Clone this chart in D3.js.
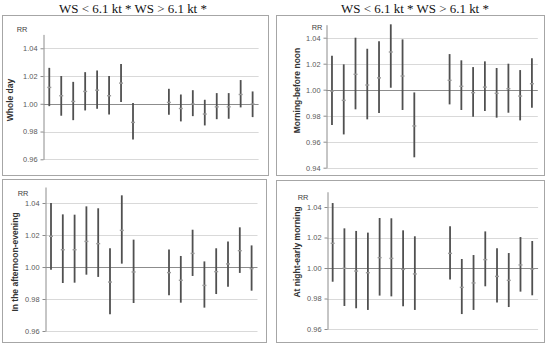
<!DOCTYPE html>
<html>
<head>
<meta charset="utf-8">
<script src="https://cdn.jsdelivr.net/npm/d3@7"></script>
<style>
  html, body { margin: 0; padding: 0; background: #fff; }
  svg { display: block; }
</style>
</head>
<body>
<svg id="chart" width="550" height="345"></svg>
<script>
// ---------------- DATA ----------------
const groupLow = ["L0", "L1", "L2", "L3", "L4", "L5", "L6", "L7"];   // WS < 6.1 kt
const groupHigh = ["H0", "H1", "H2", "H3", "H4", "H5", "H6", "H7"];  // WS > 6.1 kt
const gapSlots = ["gapA", "gapB"];
const categories = [...groupLow, ...groupHigh];

const headerText = "WS < 6.1 kt * WS > 6.1 kt *";
const rrLabel = "RR";

const wholeDayRR   = [1.0118, 1.0058, 1.0017, 1.0089, 1.0098, 1.0058, 1.0149, 0.9866, 1.0010, 0.9966, 0.9998, 0.9926, 0.9978, 0.9978, 1.0067, 0.9998];
const wholeDayLow  = [0.9983, 0.9914, 0.9882, 0.9952, 0.9964, 0.9923, 1.0012, 0.9743, 0.9921, 0.9873, 0.9911, 0.9844, 0.9889, 0.9892, 0.9974, 0.9904];
const wholeDayHigh = [1.0259, 1.0200, 1.0158, 1.0228, 1.0240, 1.0200, 1.0286, 1.0005, 1.0108, 1.0067, 1.0098, 1.0029, 1.0077, 1.0077, 1.0171, 1.0089];

const morningRR   = [0.9990, 0.9918, 1.0118, 1.0036, 1.0091, 1.0290, 1.0105, 0.9721, 1.0072, 1.0026, 0.9977, 1.0020, 0.9972, 1.0008, 0.9951, 1.0046];
const morningLow  = [0.9728, 0.9656, 0.9849, 0.9772, 0.9821, 1.0015, 0.9844, 0.9480, 0.9887, 0.9844, 0.9792, 0.9836, 0.9785, 0.9823, 0.9764, 0.9862];
const morningHigh = [1.0262, 1.0195, 1.0400, 1.0315, 1.0372, 1.0503, 1.0387, 0.9979, 1.0274, 1.0226, 1.0174, 1.0218, 1.0167, 1.0200, 1.0151, 1.0241];

const afternoonRR   = [1.0192, 1.0108, 1.0108, 1.0160, 1.0146, 0.9906, 1.0229, 0.9969, 0.9965, 0.9917, 1.0085, 0.9885, 0.9971, 1.0019, 1.0102, 0.9990];
const afternoonLow  = [0.9983, 0.9900, 0.9902, 0.9952, 0.9938, 0.9704, 1.0021, 0.9775, 0.9823, 0.9777, 0.9944, 0.9746, 0.9831, 0.9877, 0.9963, 0.9852];
const afternoonHigh = [1.0400, 1.0329, 1.0327, 1.0379, 1.0367, 1.0117, 1.0448, 1.0171, 1.0110, 1.0069, 1.0233, 1.0035, 1.0117, 1.0160, 1.0248, 1.0135];

const nightRR   = [1.0162, 0.9998, 0.9980, 0.9969, 1.0068, 1.0063, 0.9991, 0.9961, 1.0096, 0.9873, 0.9902, 1.0055, 0.9945, 0.9919, 1.0020, 0.9993];
const nightLow  = [0.9910, 0.9751, 0.9736, 0.9725, 0.9819, 0.9814, 0.9749, 0.9725, 0.9924, 0.9698, 0.9725, 0.9880, 0.9773, 0.9744, 0.9845, 0.9821];
const nightHigh = [1.0426, 1.0260, 1.0243, 1.0232, 1.0328, 1.0326, 1.0247, 1.0208, 1.0273, 1.0059, 1.0085, 1.0240, 1.0129, 1.0098, 1.0203, 1.0177];

const ticksStd = [0.96, 0.98, 1.00, 1.02, 1.04];
const ticksMorning = [0.94, 0.96, 0.98, 1.00, 1.02, 1.04];

const panelTitles = ["Whole day", "Morning-before noon", "In the afternoon-evening", "At night-early morning"];

// ---------------- LAYOUT ----------------
const layout = [
  { title: panelTitles[0], rr: wholeDayRR, lo: wholeDayLow, hi: wholeDayHigh, ticks: ticksStd,
    box: [2.5, 15.5, 266, 160], x0: 43.3, x1: 258.6, yMin: 0.96, yMax: 1.05, yBot: 159.3, yTop: 34.4,
    titleX: 10.5, titleY: 100, rrX: 22, rrY: 31.5 },
  { title: panelTitles[1], rr: morningRR, lo: morningLow, hi: morningHigh, ticks: ticksMorning,
    box: [276.5, 15.5, 268, 160], x0: 326.1, x1: 537.8, yMin: 0.94, yMax: 1.05, yBot: 167.7, yTop: 24.7,
    titleX: 297, titleY: 90.5, rrX: 317, rrY: 29.5 },
  { title: panelTitles[2], rr: afternoonRR, lo: afternoonLow, hi: afternoonHigh, ticks: ticksStd,
    box: [2.5, 179.5, 264, 163], x0: 45.1, x1: 257.5, yMin: 0.96, yMax: 1.05, yBot: 331, yTop: 187,
    titleX: 15, titleY: 262, rrX: 23, rrY: 196 },
  { title: panelTitles[3], rr: nightRR, lo: nightLow, hi: nightHigh, ticks: ticksStd,
    box: [276.5, 180.5, 268, 162], x0: 326.8, x1: 538.1, yMin: 0.96, yMax: 1.05, yBot: 329, yTop: 191.75,
    titleX: 297, titleY: 252, rrX: 303, rrY: 199.5 }
];

const svg = d3.select("#chart");
svg.append("rect").attr("width", 550).attr("height", 345).attr("fill", "#fff");

// headers: size the font so the text spans ~148 px like the reference
[[133, 13.3], [415, 12.5]].forEach(([hx, hy]) => {
  const t = svg.append("text").attr("x", hx).attr("y", hy).attr("text-anchor", "middle")
    .attr("font-family", "'Liberation Serif', 'Times New Roman', serif")
    .attr("font-size", 12.5).attr("font-weight", "normal")
    .attr("fill", "#111").text(headerText);
  const w = t.node().getComputedTextLength();
  if (w > 0) t.attr("font-size", 12.5 * 148 / w);
});

const slotDomain = [...groupLow, ...gapSlots, ...groupHigh];

layout.forEach(p => {
  const g = svg.append("g");
  // panel border
  g.append("rect").attr("x", p.box[0]).attr("y", p.box[1]).attr("width", p.box[2]).attr("height", p.box[3])
    .attr("fill", "none").attr("stroke", "#a6a6a6").attr("stroke-width", 1);

  const x = d3.scaleBand().domain(slotDomain).range([p.x0, p.x1]);
  const y = d3.scaleLinear().domain([p.yMin, p.yMax]).range([p.yBot, p.yTop]);

  // gridlines
  g.selectAll("line.grid").data(p.ticks.filter(t => Math.abs(t - 1) > 1e-9)).join("line")
    .attr("class", "grid")
    .attr("x1", p.x0).attr("x2", p.x1)
    .attr("y1", d => Math.round(y(d)) + 0.5).attr("y2", d => Math.round(y(d)) + 0.5)
    .attr("stroke", "#d9d9d9").attr("stroke-width", 1);
  // horizontal axis at 1.00
  g.append("line").attr("x1", p.x0).attr("x2", p.x1)
    .attr("y1", Math.round(y(1)) + 0.5).attr("y2", Math.round(y(1)) + 0.5)
    .attr("stroke", "#8c8c8c").attr("stroke-width", 1);

  // vertical axis
  const axis = d3.axisLeft(y).tickValues(p.ticks).tickFormat(d3.format(".2f"))
    .tickSizeInner(3).tickSizeOuter(0).tickPadding(3);
  const ax = g.append("g").attr("transform", `translate(${Math.round(p.x0) + 0.5},0)`).call(axis);
  ax.select(".domain").attr("stroke", "#8c8c8c");
  ax.selectAll(".tick line").attr("stroke", "#8c8c8c");
  ax.selectAll(".tick text").attr("fill", "#595959")
    .attr("font-family", "'Liberation Sans', Arial, sans-serif").attr("font-size", 7.4);

  // RR label
  g.append("text").attr("x", p.rrX).attr("y", p.rrY).attr("text-anchor", "middle")
    .attr("font-family", "'Liberation Sans', Arial, sans-serif").attr("font-size", 7.4)
    .attr("fill", "#404040").text(rrLabel);

  // y title
  g.append("text").attr("transform", `translate(${p.titleX},${p.titleY}) rotate(-90)`)
    .attr("text-anchor", "middle").attr("dy", "0.35em")
    .attr("font-family", "'Liberation Sans', Arial, sans-serif").attr("font-size", 8.5)
    .attr("font-weight", "bold").attr("fill", "#333").text(p.title);

  const rows = categories.map((c, i) => ({ c, rr: p.rr[i], lo: p.lo[i], hi: p.hi[i] }));
  const cx = d => x(d.c) + x.bandwidth() / 2;

  g.selectAll("line.err").data(rows).join("line")
    .attr("class", "err")
    .attr("x1", cx).attr("x2", cx)
    .attr("y1", d => y(d.hi)).attr("y2", d => y(d.lo))
    .attr("stroke", "#505050").attr("stroke-width", 1.8);

  g.selectAll("line.pt").data(rows).join("line")
    .attr("class", "pt")
    .attr("x1", d => cx(d) - 2).attr("x2", d => cx(d) + 2)
    .attr("y1", d => y(d.rr)).attr("y2", d => y(d.rr))
    .attr("stroke", "#9a9a9a").attr("stroke-width", 1.4);
});
</script>
</body>
</html>
